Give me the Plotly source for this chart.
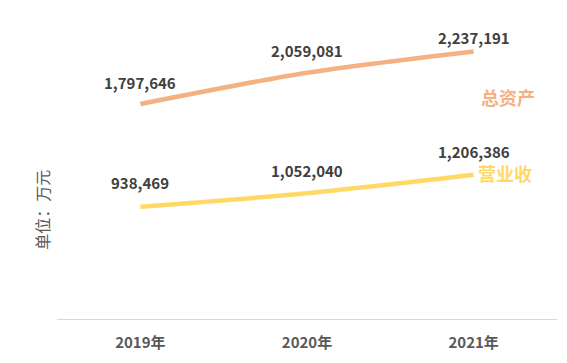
import plotly.graph_objects as go

years = ["2019年", "2020年", "2021年"]
total_assets = [1797646, 2059081, 2237191]
revenue = [938469, 1052040, 1206386]
series_names = ["总资产", "营业收"]
y_title = "单位：万元"

asset_label_shift = [22, 22, 14]
revenue_label_shift = [24, 23, 23]

c_assets = "#F4B183"
c_rev = "#FFD966"
font_family = "Noto Sans CJK SC, Noto Sans, sans-serif"

fig = go.Figure()
fig.add_trace(go.Scatter(x=years, y=total_assets, mode="lines", line=dict(color=c_assets, width=4.5, shape="spline", smoothing=0.8),
                         hoverinfo="skip", showlegend=False))
fig.add_trace(go.Scatter(x=years, y=revenue, mode="lines", line=dict(color=c_rev, width=4.5, shape="spline", smoothing=0.8),
                         hoverinfo="skip", showlegend=False))

fmt = lambda v: f"{v:,}"
for vals, shifts in ((total_assets, asset_label_shift), (revenue, revenue_label_shift)):
    for x, v, s in zip(years, vals, shifts):
        fig.add_annotation(x=x, y=v, text=f"<b>{fmt(v)}</b>", showarrow=False, yshift=s,
                           font=dict(size=15, color="#404040", family=font_family))

fig.add_annotation(x=0.902, xref="paper", y=0.742, yref="paper", xanchor="center", yanchor="middle",
                   text=f"<b>{series_names[0]}</b>", showarrow=False,
                   font=dict(size=18, color=c_assets, family=font_family))
fig.add_annotation(x=0.896, xref="paper", y=0.488, yref="paper", xanchor="center", yanchor="middle",
                   text=f"<b>{series_names[1]}</b>", showarrow=False,
                   font=dict(size=18, color=c_rev, family=font_family))

fig.add_annotation(x=-0.03, xref="paper", xanchor="center", y=0.365, yref="paper", yanchor="middle",
                   text=y_title, textangle=-90,
                   showarrow=False, font=dict(size=16, color="#595959", family=font_family))

fig.update_layout(
    width=567, height=363,
    margin=dict(l=49, r=18, t=12, b=52),
    paper_bgcolor="white", plot_bgcolor="white",
    font=dict(family=font_family),
    xaxis=dict(type="category", range=[-0.5, 2.5], showgrid=False, showline=True, linecolor="#D9D9D9", linewidth=1,
               ticks="outside", ticklen=10, tickcolor="rgba(0,0,0,0)",
               tickfont=dict(size=15, color="#595959", family=font_family), tickprefix="<b>", ticksuffix="</b>",
               zeroline=False),
    yaxis=dict(range=[0, 2500000], showgrid=False, showticklabels=False, zeroline=False, showline=False),
)

fig.write_html("out.html")
